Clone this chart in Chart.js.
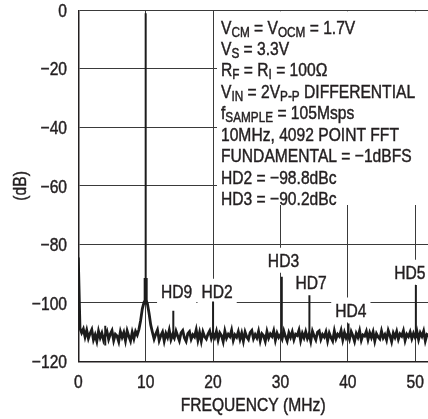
<!DOCTYPE html>
<html><head><meta charset="utf-8">
<script src="https://cdn.jsdelivr.net/npm/chart.js@4/dist/chart.umd.min.js"></script>
<style>html,body{margin:0;padding:0;background:#fff;overflow:hidden}#wrap{width:428px;height:419px}</style>
</head><body><div id="wrap"><canvas id="c" width="428" height="419"></canvas></div>
<script>
const FONT = '"Liberation Sans", Arial, sans-serif';
const SQUEEZE = 0.84;          // condensed look of the original face
const INK = '#231f20';

// axis ticks
const xTicks = [0, 10, 20, 30, 40, 50];
const yTicks = [-120, -100, -80, -60, -40, -20, 0];
const xMax = 51.9;

// FFT bins (MHz) : start and spacing of the floor levels below
const binStart = 0;
const binStep = 0.25;
// noise floor / trace levels (dB), one per bin
const floorLevels = [
 -84.5,-108.6,-110.2,-108.9,-111.6,-109.3,-112.1,-110.4,-109.1,-112.6,-110.9,-113.1,-109.6,-111.9,-110.3,-112.7,-111.0,-109.7,-112.4,-110.6,
 -109.4,-112.8,-110.7,-111.3,-113.2,-109.8,-111.7,-110.1,-112.9,-109.5,-111.4,-113.0,-110.0,-112.2,-109.7,-110.9,-109.0,-106.0,-102.0,-99.8,
 -99.0,-100.2,-103.5,-107.5,-110.0,-112.3,-110.6,-109.2,-112.8,-111.1,-109.9,-113.0,-110.4,-111.8,-109.3,-112.5,-110.8,-112.0,-109.6,-111.3,
 -112.9,-110.2,-109.4,-111.9,-113.1,-110.5,-109.8,-112.4,-110.9,-111.6,-109.2,-112.7,-110.1,-113.0,-109.9,-111.5,-112.3,-110.6,-109.5,-112.1,
 -110.4,-111.8,-109.7,-112.6,-110.2,-111.1,-113.2,-109.6,-112.0,-110.7,-111.5,-109.3,-112.8,-110.9,-111.7,-109.8,-112.4,-110.3,-113.0,-109.9,
 -111.6,-112.5,-110.1,-109.4,-112.2,-110.8,-111.9,-109.7,-112.9,-110.5,-111.2,-113.1,-109.8,-112.0,-110.6,-111.4,-109.5,-112.7,-110.3,-111.8,
 -110.9,-112.3,-109.6,-111.5,-113.0,-110.2,-111.7,-109.9,-112.5,-110.7,-111.1,-109.3,-112.8,-110.4,-111.9,-109.8,-112.1,-110.6,-113.1,-109.7,
 -111.3,-112.6,-110.0,-109.5,-112.4,-110.8,-111.6,-109.9,-112.9,-110.3,-111.8,-113.0,-109.6,-112.2,-110.7,-111.4,-109.4,-112.6,-110.1,-111.9,
 -110.6,-112.4,-109.8,-111.2,-113.1,-110.4,-111.7,-109.5,-112.7,-110.9,-111.3,-109.7,-112.5,-110.2,-111.8,-109.9,-113.0,-110.5,-111.6,-112.3,
 -109.6,-111.9,-110.8,-112.6,-109.4,-111.1,-113.2,-110.3,-111.7,-109.8,-112.4,-110.6,-111.3,-109.5,-112.8,-110.7,-111.5,-109.9,-112.2,-110.4,
 -111.8,-109.7,-112.5,-110.2,-111.4,-109.6,-112.9,-110.8,-111.2
];

// fundamental (10MHz) tone
const fundFreq = 10.0;
const fundPeak = -1;
const fundCoreLow = -100.5;
const fundCoreHigh = -91.5;

// spurs / harmonics
const spurFreqs = [4.0, 14.1, 20.0, 30.2, 34.3, 40.1, 50.1];
const spurLows  = [-114.5, -111.5, -111.5, -111.5, -111.5, -111.5, -112.0];
const spurHighs = [-107.8, -102.7, -99.5, -91.0, -97.4, -107.0, -93.9];

// harmonic labels (centre, in data units)
const hdLabels = ['HD9', 'HD2', 'HD3', 'HD7', 'HD4', 'HD5'];
const hdLabelX = [14.6, 20.6, 30.45, 34.55, 40.45, 49.2];
const hdLabelY = [-96.0, -96.0, -85.4, -92.9, -102.4, -89.5];

// condition text block: [text, isSubscript]
const noteLines = [
  [['V',0],['CM',1],[' = V',0],['OCM',1],[' = 1.7V',0]],
  [['V',0],['S',1],[' = 3.3V',0]],
  [['R',0],['F',1],[' = R',0],['I',1],[' = 100\u03A9',0]],
  [['V',0],['IN',1],[' = 2V',0],['P-P',1],[' DIFFERENTIAL',0]],
  [['f',0],['SAMPLE',1],[' = 105Msps',0]],
  [['10MHz, 4092 POINT FFT',0]],
  [['FUNDAMENTAL = \u22121dBFS',0]],
  [['HD2 = \u221298.8dBc',0]],
  [['HD3 = \u221290.2dBc',0]]
];

const xTitle = 'FREQUENCY (MHz)';
const yTitle = '(dB)';

// ---- build datasets from the arrays ----
const floorData = floorLevels.map((v, i) => ({x: binStart + i * binStep, y: v}));
const spurData = [];
spurFreqs.forEach((f, i) => {
  spurData.push({x: f, y: spurLows[i]}, {x: f, y: spurHighs[i]}, {x: f, y: null});
});
const fundThin = [{x: fundFreq, y: fundCoreHigh}, {x: fundFreq, y: fundPeak}];
const fundCore = [{x: fundFreq, y: fundCoreLow}, {x: fundFreq, y: fundCoreHigh}];

const fmt = v => v < 0 ? '\u2212' + Math.abs(v) : String(v);

// condensed text helper; returns advance width
function narrowText(ctx, s, x, y, size, align) {
  ctx.font = size + 'px ' + FONT;
  const w = ctx.measureText(s).width * SQUEEZE;
  let x0 = x;
  if (align === 'center') x0 = x - w / 2;
  else if (align === 'right') x0 = x - w;
  ctx.save();
  ctx.translate(x0, y);
  ctx.scale(SQUEEZE, 1);
  ctx.textAlign = 'left';
  ctx.textBaseline = 'alphabetic';
  ctx.fillText(s, 0, 0);
  ctx.strokeStyle = INK;
  ctx.lineWidth = 0.45;
  ctx.strokeText(s, 0, 0);
  ctx.restore();
  return w;
}

const BIG = 18.6, SMALL = 14;
const CAP = BIG * 0.716;

const annotate = {
  id: 'annotate',
  beforeDatasetsDraw(chart) {
    const ctx = chart.ctx;
    const xs = chart.scales.x, ys = chart.scales.y;
    ctx.save();
    // condition block
    const bx = 217, by = chart.chartArea.top + 1;
    ctx.fillStyle = '#fff';
    ctx.fillRect(bx, by, 428 - bx, 205 - by);
    ctx.fillStyle = INK;
    noteLines.forEach((segs, li) => {
      let x = 221;
      const base = 33.5 + li * 21.45;
      segs.forEach(([t, sub]) => {
        x += narrowText(ctx, t, x, sub ? base + 3 : base, sub ? SMALL : BIG, 'left');
      });
    });
    // harmonic labels
    ctx.font = BIG + 'px ' + FONT;
    hdLabels.forEach((t, i) => {
      const cx = xs.getPixelForValue(hdLabelX[i]);
      const cy = ys.getPixelForValue(hdLabelY[i]);
      const w = ctx.measureText(t).width * SQUEEZE;
      ctx.fillStyle = '#fff';
      ctx.fillRect(cx - w / 2 - 4, cy - 12.5, w + 8, 25);
      ctx.fillStyle = INK;
      narrowText(ctx, t, cx, cy + CAP / 2, BIG, 'center');
      ctx.font = BIG + 'px ' + FONT;
    });
    ctx.restore();
  },
  afterDraw(chart) {
    const ctx = chart.ctx;
    const xs = chart.scales.x, ys = chart.scales.y, ca = chart.chartArea;
    ctx.save();
    ctx.fillStyle = INK;
    // tick labels through the library's scales
    xs.ticks.forEach(t => {
      narrowText(ctx, fmt(t.value), xs.getPixelForValue(t.value), ca.bottom + 26.8, BIG, 'center');
    });
    ys.ticks.forEach(t => {
      narrowText(ctx, fmt(t.value), ca.left - 11.3, ys.getPixelForValue(t.value) + CAP / 2, BIG, 'right');
    });
    // axis titles
    narrowText(ctx, xTitle, (ca.left + ca.right) / 2, 411, BIG, 'center');
    ctx.save();
    ctx.translate(25.8, (ca.top + ca.bottom) / 2);
    ctx.rotate(-Math.PI / 2);
    narrowText(ctx, yTitle, 0, 0, BIG, 'center');
    ctx.restore();
    ctx.restore();
  }
};

new Chart(document.getElementById('c'), {
  type: 'line',
  data: {
    datasets: [
      {data: floorData, borderColor: '#1c1c1c', borderWidth: 2.8, pointRadius: 0, tension: 0, borderJoinStyle: 'miter'},
      {data: spurData, borderColor: '#1c1c1c', borderWidth: 2, pointRadius: 0, spanGaps: false},
      {data: fundThin, borderColor: '#1c1c1c', borderWidth: 2, pointRadius: 0},
      {data: fundCore, borderColor: '#1c1c1c', borderWidth: 4, pointRadius: 0}
    ]
  },
  options: {
    responsive: false,
    animation: false,
    layout: {padding: {top: 10.3, left: 0, right: 0, bottom: 0}},
    plugins: {legend: {display: false}, tooltip: {enabled: false}},
    scales: {
      x: {
        type: 'linear', min: 0, max: xMax,
        afterBuildTicks: s => { s.ticks = xTicks.map(v => ({value: v})); },
        afterFit: s => { s.height = 57.5; },
        grid: {color: '#3a3a3a', lineWidth: 1, drawTicks: false},
        border: {color: INK, width: 1.5},
        ticks: {display: false},
        title: {display: false}
      },
      y: {
        type: 'linear', min: -120, max: 0,
        afterBuildTicks: s => { s.ticks = yTicks.map(v => ({value: v})); },
        afterFit: s => { s.width = 78.3; },
        grid: {color: '#3a3a3a', lineWidth: 1, drawTicks: false},
        border: {color: INK, width: 1.5},
        ticks: {display: false},
        title: {display: false}
      }
    }
  },
  plugins: [annotate]
});
</script>
</body></html>
